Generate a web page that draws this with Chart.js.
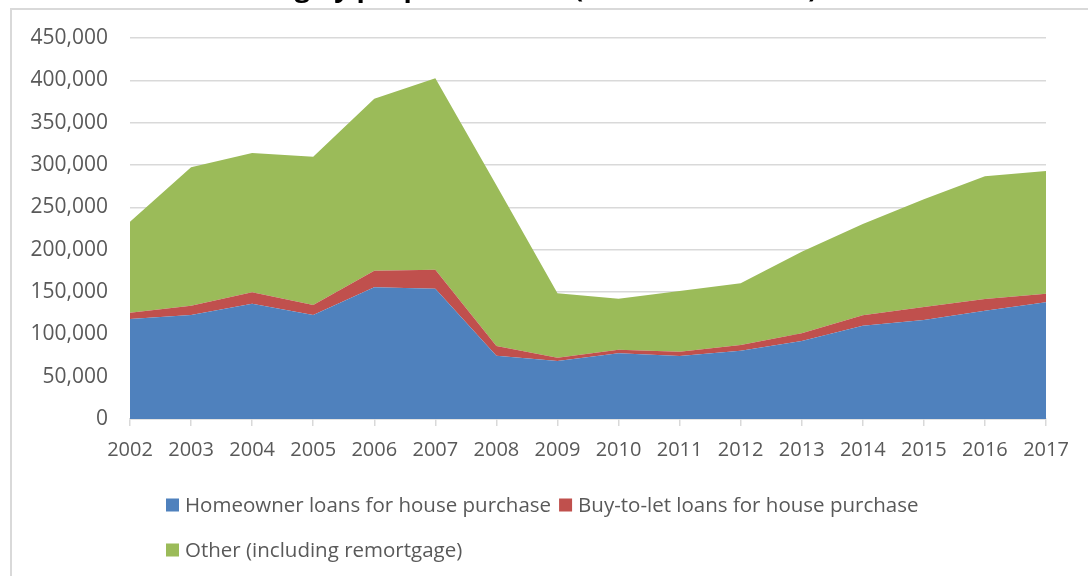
<!DOCTYPE html>
<html>
<head>
<meta charset="utf-8">
<script src="https://cdn.jsdelivr.net/npm/chart.js@4"></script>
<style>
  html, body { margin: 0; padding: 0; background: #ffffff; overflow: hidden; }
  #wrap { position: relative; width: 1088px; height: 576px; overflow: hidden; }
  #frame {
    position: absolute; left: 10px; top: 8px; width: 1200px; height: 700px;
    border: 2px solid #d9d9d9; box-sizing: border-box;
  }
  #chart { position: absolute; left: 0; top: 0; }
</style>
</head>
<body>
<div id="wrap">
  <div id="frame"></div>
  <canvas id="chart" width="1088" height="576"></canvas>
</div>
<script>
// Years on the horizontal axis
const years = ['2002', '2003', '2004', '2005', '2006', '2007', '2008', '2009',
               '2010', '2011', '2012', '2013', '2014', '2015', '2016', '2017'];

// Gross lending, £ million
const homeowner = [118000, 122800, 136200, 122800, 155500, 153900, 74800, 68500,
                   77600, 74400, 80700, 92100, 110200, 116900, 127900, 137800];
const buyToLet  = [7500, 11000, 13400, 11800, 19700, 22500, 11400, 3900,
                   4300, 5100, 6700, 9100, 12300, 15400, 13800, 10200];
const other     = [107500, 163400, 164600, 175200, 203100, 226000, 189800, 76000,
                   60200, 71700, 72900, 96400, 107800, 127200, 144900, 144900];

const seriesNames = ['Homeowner loans for house purchase',
                     'Buy-to-let loans for house purchase',
                     'Other (including remortgage)'];

const yTicks = [0, 50000, 100000, 150000, 200000, 250000, 300000, 350000, 400000, 450000];

const chartTitle = 'Chart 3: Gross lending by purpose of loan (£ million, annual)';

const FONT = '"Open Sans", sans-serif';
const TEXT = '#595959';
const GRID = '#d9d9d9';

// Document heading sitting just above the chart frame (runs off the top edge)
const heading = {
  id: 'heading',
  afterDraw(chart) {
    const ctx = chart.ctx;
    ctx.save();
    ctx.font = 'bold 27px ' + FONT;
    ctx.fillStyle = '#000000';
    ctx.textBaseline = 'alphabetic';
    ctx.textAlign = 'left';
    ctx.fillText(chartTitle, 15, -3);
    ctx.restore();
  }
};

// Legend laid out in rows, left aligned, wrapping like the office-style legend
const rowLegend = {
  id: 'rowLegend',
  afterDraw(chart) {
    const ctx = chart.ctx;
    const startX = 166, firstRowY = 505, rowGap = 45, wrapAt = 945;
    const box = 13, textGap = 6, itemGap = 8;
    ctx.save();
    ctx.font = '20.5px ' + FONT;
    ctx.textBaseline = 'middle';
    ctx.textAlign = 'left';
    let x = startX, y = firstRowY;
    chart.data.datasets.forEach((ds, i) => {
      const w = box + textGap + ctx.measureText(ds.label).width;
      if (i > 0 && x + w > wrapAt) { x = startX; y += rowGap; }
      ctx.fillStyle = ds.backgroundColor;
      ctx.fillRect(x, y - box / 2, box, box);
      ctx.fillStyle = TEXT;
      ctx.fillText(ds.label, x + box + textGap, y + 1);
      x += w + itemGap;
    });
    ctx.restore();
  }
};

const colors = ['#4f81bd', '#c0504d', '#9bbb59'];
const values = [homeowner, buyToLet, other];

new Chart(document.getElementById('chart'), {
  type: 'line',
  data: {
    labels: years,
    datasets: values.map((v, i) => ({
      label: seriesNames[i],
      data: v,
      backgroundColor: colors[i],
      borderColor: colors[i],
      borderWidth: 0,
      pointRadius: 0,
      tension: 0,
      fill: i === 0 ? 'origin' : '-1'
    }))
  },
  options: {
    responsive: false,
    animation: false,
    layout: { padding: { left: 0, top: 38, right: 42, bottom: 0 } },
    plugins: {
      legend: { display: false },
      tooltip: { enabled: false }
    },
    scales: {
      x: {
        offset: false,
        grid: { drawOnChartArea: false, drawTicks: true, tickLength: 7, color: GRID, lineWidth: 1.5 },
        border: { display: true, color: GRID, width: 1.5 },
        ticks: { color: TEXT, font: { family: FONT, size: 20 }, padding: 12, maxRotation: 0, autoSkip: false },
        afterFit(scale) { scale.height = 157; }
      },
      y: {
        stacked: true,
        min: 0,
        max: 450000,
        afterBuildTicks(scale) { scale.ticks = yTicks.map(v => ({ value: v })); },
        grid: { color: GRID, lineWidth: 1.5, drawTicks: false },
        border: { display: false },
        ticks: {
          color: TEXT,
          font: { family: FONT, size: 21 },
          padding: 22,
          callback: v => v.toLocaleString('en-GB')
        },
        afterFit(scale) { scale.width = 130; }
      }
    }
  },
  plugins: [heading, rowLegend]
});
</script>
</body>
</html>
